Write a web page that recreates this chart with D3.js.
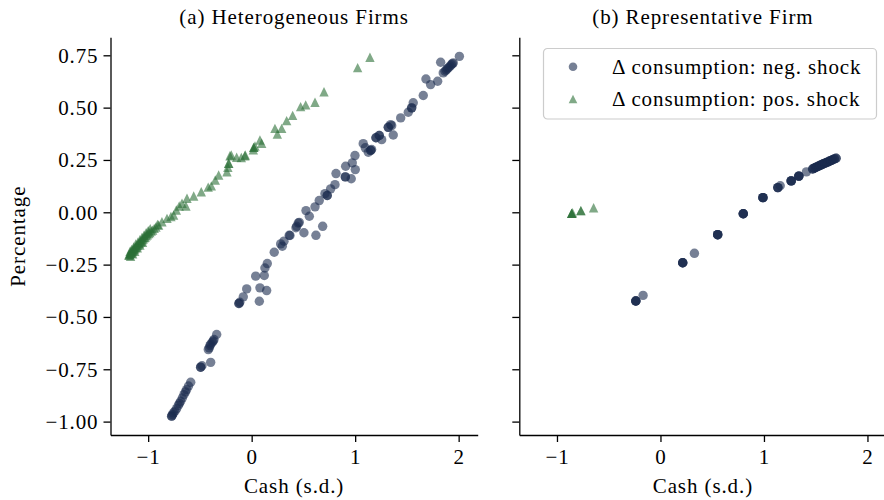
<!DOCTYPE html>
<html>
<head>
<meta charset="utf-8">
<script src="https://cdn.jsdelivr.net/npm/d3@7"></script>
<style>
  html, body { margin: 0; padding: 0; background: #fff; }
  svg { display: block; }
  text { font-family: "Liberation Serif", "Times New Roman", serif; fill: #000; }
</style>
</head>
<body>
<div id="chart"></div>
<script>
// ---- data: consumption response (%) against cash holdings (s.d.) ----
// Heterogeneous firms, negative shock  [cash, Δ consumption]
const hetNeg = [
  [-0.773,-0.974],[-0.773,-0.974],[-0.765,-0.967],[-0.755,-0.958],[-0.741,-0.950],[-0.725,-0.938],
  [-0.709,-0.923],[-0.698,-0.913],[-0.686,-0.903],[-0.670,-0.887],[-0.654,-0.871],[-0.640,-0.858],
  [-0.628,-0.847],[-0.610,-0.830],[-0.589,-0.812],
  [-0.493,-0.740],[-0.493,-0.740],[-0.480,-0.733],[-0.396,-0.717],
  [-0.419,-0.656],[-0.410,-0.648],[-0.403,-0.637],[-0.395,-0.630],[-0.381,-0.621],[-0.372,-0.615],
  [-0.364,-0.608],[-0.338,-0.584],
  [-0.123,-0.436],[-0.123,-0.436],[-0.115,-0.430],[-0.081,-0.404],[-0.048,-0.366],
  [0.074,-0.425],[0.080,-0.361],[0.145,-0.374],[0.039,-0.305],[0.122,-0.302],[0.128,-0.266],
  [0.151,-0.245],[0.218,-0.191],[0.280,-0.151],[0.296,-0.162],[0.312,-0.138],[0.363,-0.110],
  [0.370,-0.111],[0.428,-0.074],[0.435,-0.067],[0.450,-0.051],[0.460,-0.048],[0.505,-0.098],
  [0.621,-0.110],[0.686,-0.067],[0.557,-0.019],[0.525,0.008],[0.612,0.026],[0.653,0.056],
  [0.730,0.080],[0.730,0.080],[0.708,0.089],[0.763,0.112],[0.805,0.132],[0.815,0.185],
  [0.905,0.169],[0.905,0.169],[0.962,0.160],[0.908,0.220],[0.972,0.236],[1.001,0.204],
  [0.998,0.271],[1.078,0.328],[1.098,0.308],[1.150,0.296],[1.150,0.296],[1.127,0.287],
  [1.159,0.300],[1.201,0.356],[1.201,0.356],[1.233,0.367],[1.233,0.367],[1.256,0.347],
  [1.368,0.369],[1.320,0.406],[1.320,0.406],[1.343,0.419],[1.353,0.414],[1.440,0.451],
  [1.513,0.478],[1.546,0.499],[1.546,0.499],[1.561,0.523],[1.658,0.558],[1.684,0.637],
  [1.729,0.610],[1.797,0.626],[1.826,0.717],[1.851,0.666],[1.868,0.674],[1.880,0.680],
  [1.892,0.686],[1.905,0.692],[1.918,0.699],[1.930,0.705],[1.940,0.710],[1.948,0.714],
  [2.007,0.745]
];

// Heterogeneous firms, positive shock
const hetPos = [
  [-1.187,-0.205],[-1.183,-0.200],[-1.178,-0.203],[-1.172,-0.196],[-1.167,-0.192],[-1.162,-0.194],
  [-1.156,-0.187],[-1.150,-0.184],[-1.144,-0.181],[-1.138,-0.176],[-1.131,-0.174],[-1.125,-0.168],
  [-1.118,-0.166],[-1.110,-0.160],[-1.102,-0.157],[-1.094,-0.151],[-1.086,-0.148],[-1.077,-0.142],
  [-1.068,-0.139],[-1.058,-0.132],[-1.049,-0.128],[-1.040,-0.122],[-1.030,-0.119],[-1.019,-0.112],
  [-1.008,-0.108],[-0.996,-0.101],[-0.984,-0.097],[-0.971,-0.090],[-0.957,-0.085],[-0.942,-0.077],
  [-1.175,-0.186],[-1.160,-0.177],[-1.140,-0.166],[-1.120,-0.151],[-1.100,-0.143],[-1.080,-0.131],
  [-1.060,-0.120],[-1.040,-0.109],[-1.020,-0.098],[-1.000,-0.088],[-0.980,-0.078],
  [-1.170,-0.210],[-1.150,-0.198],[-1.130,-0.186],[-1.105,-0.170],[-1.080,-0.157],[-1.055,-0.143],
  [-0.925,-0.070],[-0.910,-0.058],
  [-0.899,-0.061],[-0.867,-0.045],[-0.818,-0.029],[-0.780,-0.020],[-0.754,-0.013],[-0.728,0.011],
  [-0.700,0.030],[-0.673,0.043],[-0.635,0.030],[-0.625,0.067],[-0.560,0.078],[-0.487,0.098],
  [-0.420,0.120],[-0.390,0.126],[-0.352,0.154],[-0.319,0.178],[-0.239,0.194],[-0.230,0.215],
  [-0.222,0.234],[-0.222,0.234],[-0.210,0.270],[-0.197,0.274],[-0.145,0.263],[-0.100,0.262],
  [-0.065,0.270],[-0.062,0.274],[0.016,0.298],[0.020,0.310],[0.020,0.310],[0.032,0.317],
  [0.080,0.345],[0.097,0.330],[0.225,0.401],[0.248,0.374],[0.290,0.401],[0.338,0.438],
  [0.396,0.463],[0.473,0.505],[0.522,0.513],[0.612,0.526],[0.699,0.576],[1.024,0.691],
  [1.143,0.741]
];

// Representative firm, negative shock
const repNeg = [
  [-0.238,-0.424],[-0.238,-0.424],[-0.238,-0.424],[-0.238,-0.424],[-0.168,-0.397],
  [0.215,-0.241],[0.215,-0.241],[0.215,-0.241],[0.215,-0.241],[0.328,-0.196],
  [0.553,-0.107],[0.553,-0.107],[0.553,-0.107],[0.553,-0.107],
  [0.800,-0.007],[0.800,-0.007],[0.800,-0.007],[0.800,-0.007],
  [0.990,0.070],[0.990,0.070],[0.990,0.070],[0.990,0.070],
  [1.134,0.118],[1.134,0.118],[1.134,0.118],[1.157,0.127],
  [1.263,0.150],[1.263,0.150],[1.263,0.150],[1.263,0.150],
  [1.337,0.173],[1.337,0.173],[1.337,0.173],[1.337,0.173],[1.410,0.193],
  [1.470,0.207],[1.470,0.207],[1.485,0.211],[1.485,0.211],[1.500,0.214],[1.500,0.214],
  [1.515,0.218],[1.515,0.218],[1.530,0.221],[1.530,0.221],[1.545,0.225],[1.545,0.225],
  [1.560,0.228],[1.560,0.228],[1.575,0.232],[1.575,0.232],[1.590,0.235],[1.590,0.235],
  [1.605,0.238],[1.605,0.238],[1.620,0.241],[1.620,0.241],[1.635,0.245],[1.635,0.245],
  [1.650,0.248],[1.650,0.248],[1.665,0.251],[1.665,0.251],[1.680,0.255],[1.680,0.255],
  [1.697,0.258],[1.697,0.258]
];

// Representative firm, positive shock
const repPos = [
  [-0.858,-0.005],[-0.858,-0.005],[-0.858,-0.005],[-0.850,-0.002],
  [-0.769,0.008],[-0.769,0.008],[-0.646,0.022]
];

const panelTitles = ["(a) Heterogeneous Firms", "(b) Representative Firm"];
const seriesNames = ["Δ consumption: neg. shock", "Δ consumption: pos. shock"];
const xTicks = [-1, 0, 1, 2];
const yTicks = [-1.0, -0.75, -0.5, -0.25, 0, 0.25, 0.5, 0.75];
const xDomain = [-1.364, 2.184];
const yDomain = [-1.064, 0.836];

// ---- layout & style ----
const W = 884, H = 500;
const panelW = 367.2, panelH = 397.7, plotTop = 37.3;
const panelX = [110.5, 519.3];
const navy = "#1a2c4e", green = "#2b7037", alpha = 0.6;
const fontSize = 21, letterSp = "0.9px";

const svg = d3.select("#chart").append("svg")
  .attr("width", W).attr("height", H);

const x = d3.scaleLinear().domain(xDomain).range([0, panelW]);
const y = d3.scaleLinear().domain(yDomain).range([panelH, 0]);

// matplotlib-style "^": isoceles triangle, as wide as it is tall
const triangleUp = {
  draw(ctx, size) {
    const a = Math.sqrt(size) / 2;
    ctx.moveTo(0, -a);
    ctx.lineTo(-a, a);
    ctx.lineTo(a, a);
    ctx.closePath();
  }
};
const triPath = d3.symbol().type(triangleUp).size(4.7 * 4.7 * 4)();
const circR = 4.7;

const panels = [
  { neg: hetNeg, pos: hetPos, showYLabels: true },
  { neg: repNeg, pos: repPos, showYLabels: false }
];

panels.forEach((p, i) => {
  const g = svg.append("g").attr("transform", `translate(${panelX[i]},${plotTop})`);

  // points
  g.append("g").selectAll("circle").data(p.neg).join("circle")
    .attr("cx", d => x(d[0])).attr("cy", d => y(d[1]))
    .attr("r", circR).attr("fill", navy).attr("fill-opacity", alpha);
  g.append("g").selectAll("path").data(p.pos).join("path")
    .attr("d", triPath)
    .attr("transform", d => `translate(${x(d[0])},${y(d[1])})`)
    .attr("fill", green).attr("fill-opacity", alpha);

  // axes (left and bottom spines only)
  const xa = g.append("g").attr("transform", `translate(0,${panelH})`)
    .call(d3.axisBottom(x).tickValues(xTicks).tickFormat(d3.format("d"))
      .tickSize(7).tickSizeOuter(0).tickPadding(7));
  const ya = g.append("g")
    .call(d3.axisLeft(y).tickValues(yTicks)
      .tickFormat(p.showYLabels ? d3.format(".2f") : () => "")
      .tickSize(7).tickSizeOuter(0).tickPadding(5));
  [xa, ya].forEach(a => {
    a.attr("font-family", null).attr("font-size", null);
    a.selectAll("path, line").attr("stroke", "#000").attr("stroke-width", 1.3);
    a.selectAll("text").style("font-size", fontSize + "px")
      .style("letter-spacing", letterSp).attr("fill", "#000");
  });

  // panel title and x label
  g.append("text").attr("x", panelW / 2).attr("y", 24 - plotTop)
    .attr("text-anchor", "middle").style("font-size", fontSize + "px")
    .style("letter-spacing", letterSp).text(panelTitles[i]);
  g.append("text").attr("x", panelW / 2).attr("y", 493 - plotTop)
    .attr("text-anchor", "middle").style("font-size", fontSize + "px")
    .style("letter-spacing", letterSp).text("Cash (s.d.)");
});

// shared y label
svg.append("text")
  .attr("transform", `translate(25,${plotTop + panelH / 2}) rotate(-90)`)
  .attr("text-anchor", "middle").style("font-size", fontSize + "px")
  .style("letter-spacing", letterSp).text("Percentage");

// legend in panel (b)
const lg = svg.append("g").attr("transform", "translate(543.5,48.5)");
lg.append("rect").attr("width", 333).attr("height", 70.5).attr("rx", 4)
  .attr("fill", "#fff").attr("fill-opacity", 0.8)
  .attr("stroke", "#cccccc").attr("stroke-width", 1.2);
const rows = [18.2, 50.5];
lg.append("circle").attr("cx", 29.5).attr("cy", rows[0]).attr("r", 4.3)
  .attr("fill", navy).attr("fill-opacity", alpha);
lg.append("path").attr("d", d3.symbol().type(triangleUp).size(4.3 * 4.3 * 4)())
  .attr("transform", `translate(29.5,${rows[1]})`)
  .attr("fill", green).attr("fill-opacity", alpha);
seriesNames.forEach((s, i) => {
  lg.append("text").attr("x", 68.5).attr("y", rows[i] + 7)
    .style("font-size", fontSize + "px").style("letter-spacing", letterSp).text(s);
});
</script>
</body>
</html>
